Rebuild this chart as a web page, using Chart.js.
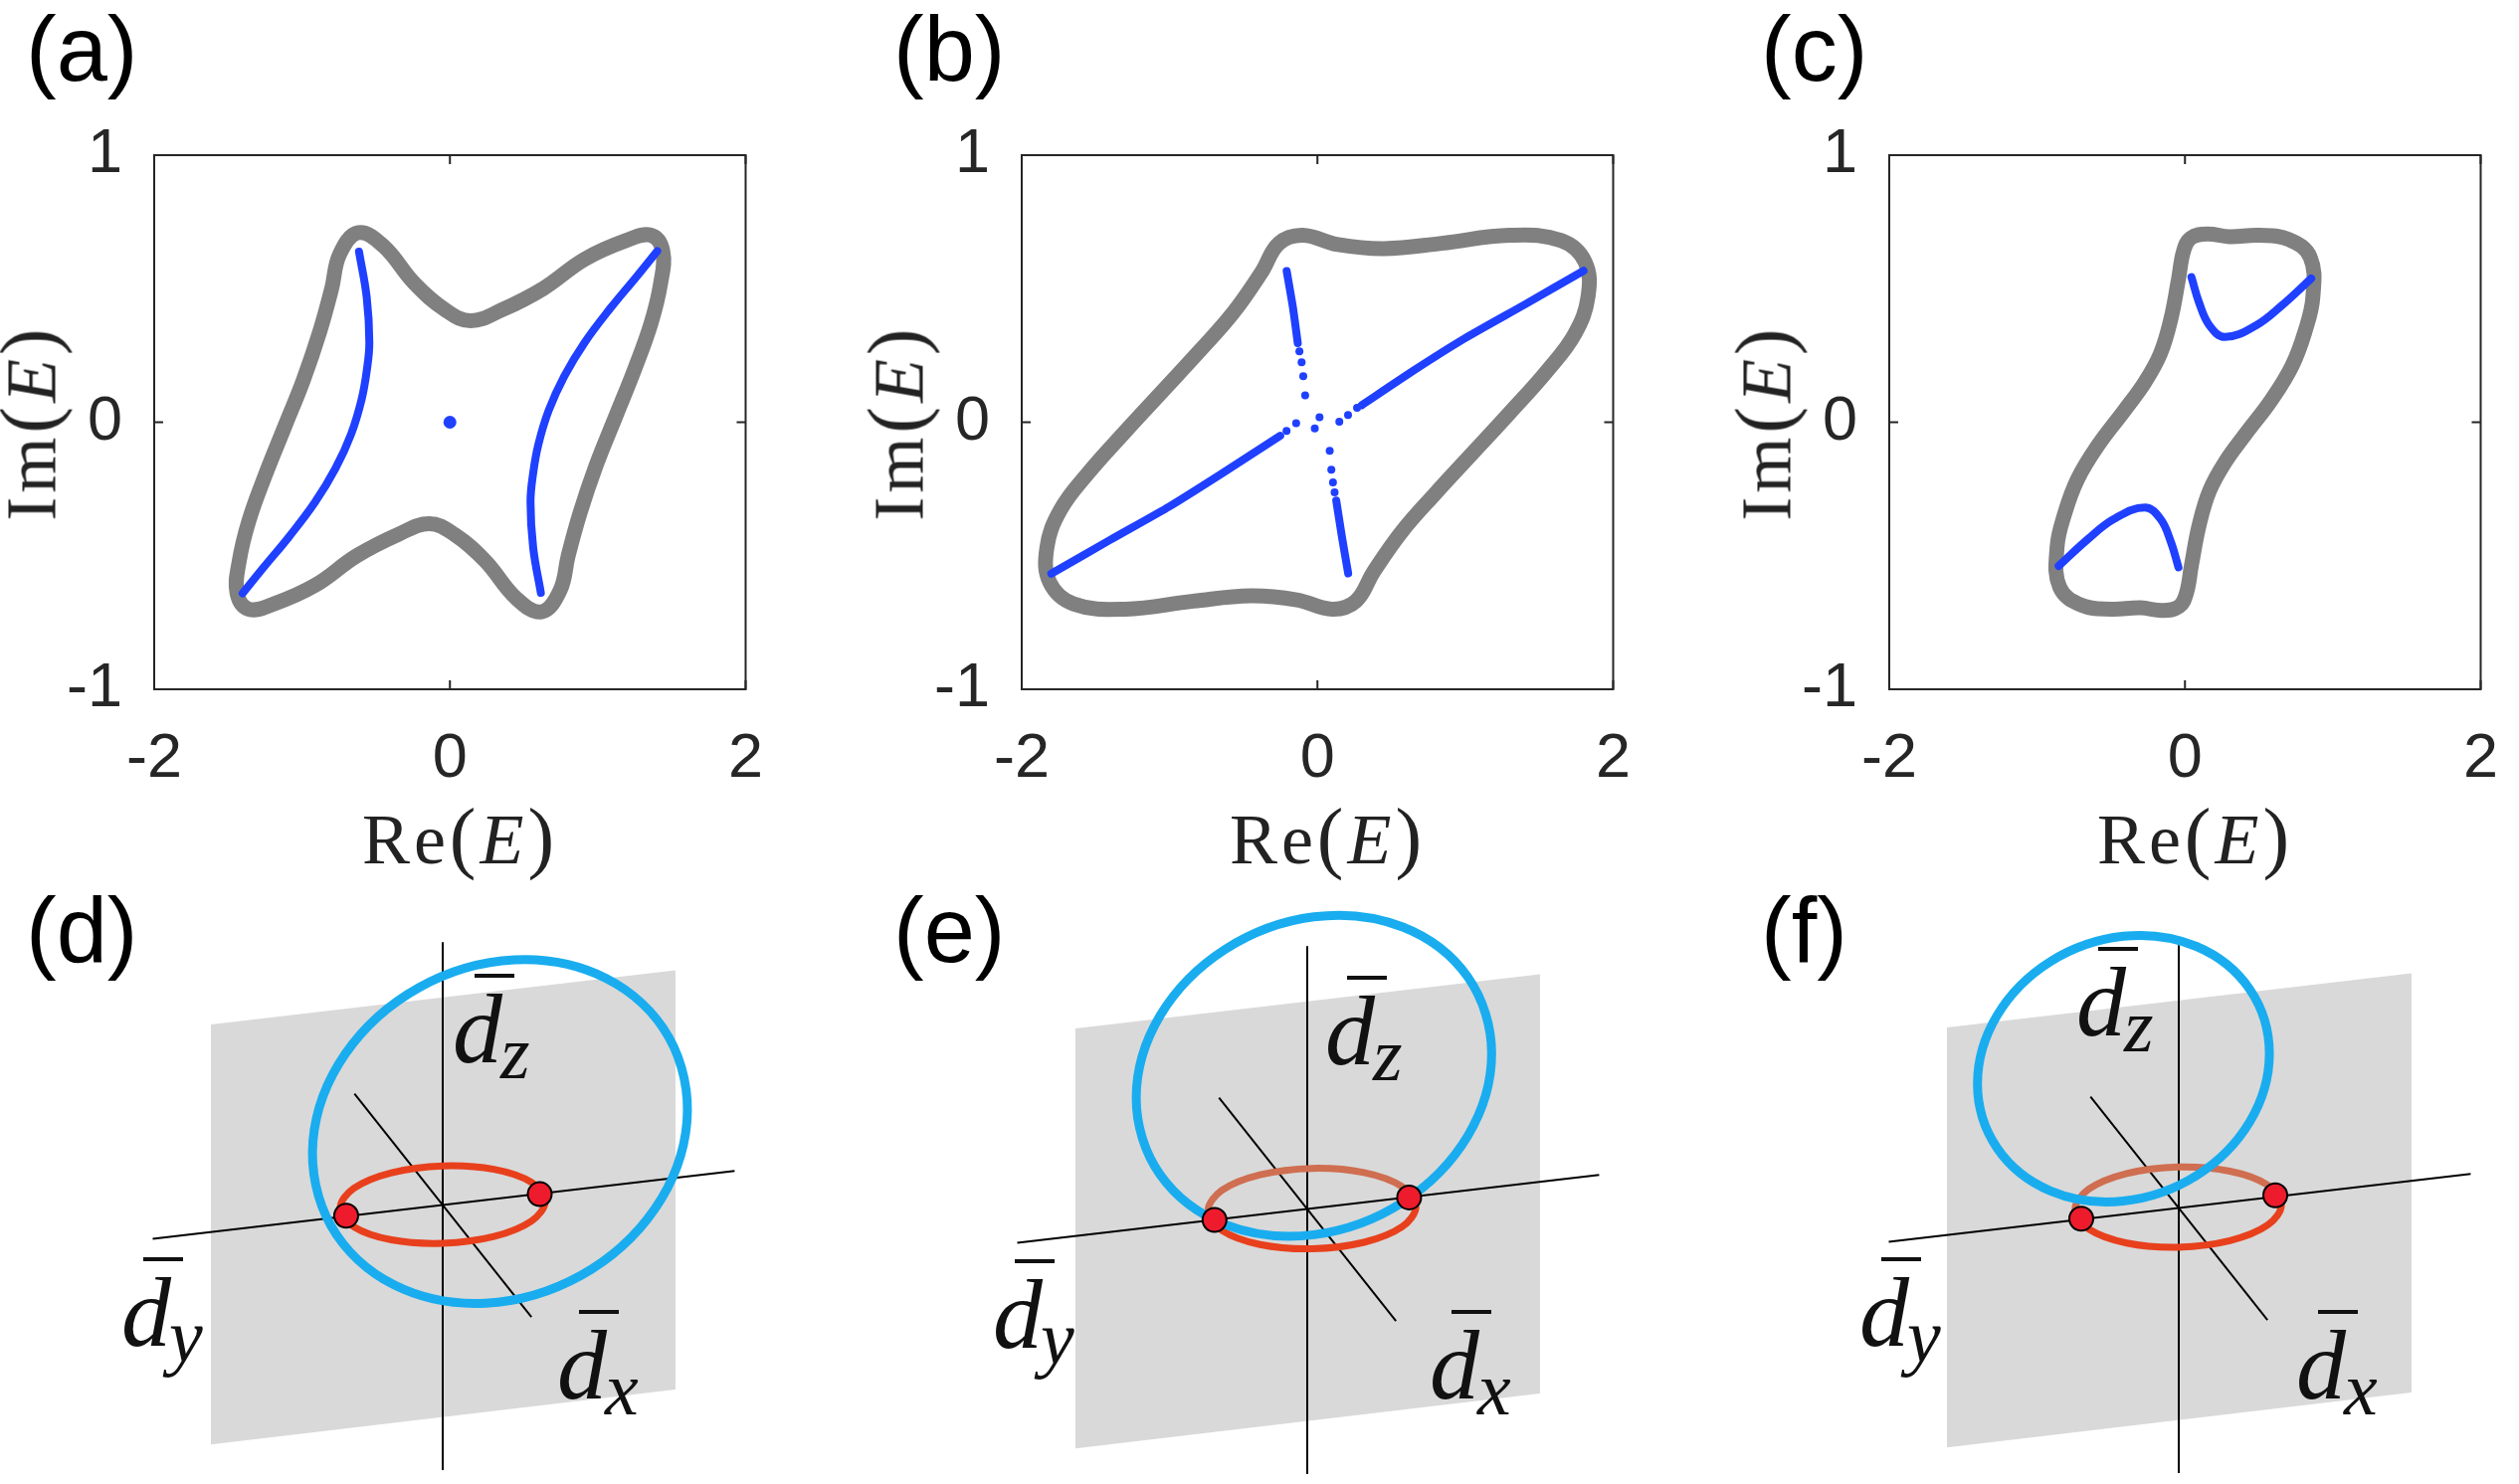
<!DOCTYPE html>
<html>
<head>
<meta charset="utf-8">
<title>Complex spectra and d-vector loops</title>
<script src="https://cdn.jsdelivr.net/npm/chart.js@4.4.1/dist/chart.umd.min.js"></script>
<style>
  html, body { margin:0; padding:0; background:#ffffff; }
  body { width:2532px; height:1492px; overflow:hidden; position:relative; }
  canvas.cv { position:absolute; display:block; }
  .plabel { position:absolute; font-family:'Liberation Sans', Arial, sans-serif; font-size:92px; line-height:92px; color:#000; white-space:nowrap; }
  .ttl { position:absolute; font-family:'Liberation Serif','Times New Roman',serif; font-size:72px; line-height:72px; color:#222; white-space:nowrap; letter-spacing:4px; }
  .ttl .p { font-size:80px; line-height:72px; }
  .ttl i { font-style:italic; }
  .dm { position:absolute; font-family:'Liberation Serif','Times New Roman',serif; font-style:italic; color:#111; white-space:nowrap; font-size:100px; line-height:100px; }
  .dm .sb { font-size:76px; position:relative; top:16px; margin-left:-2px; }
  .dm .dbar { position:absolute; background:#111; left:22px; top:-6px; width:40px; height:4px; }
</style>
</head>
<body>
<script>
// ---------------- data ----------------
const xTicks = [-2, 0, 2];
const yTicks = [-1, 0, 1];
const panelNames = ['(a)', '(b)', '(c)', '(d)', '(e)', '(f)'];

// (a) spectrum: PBC loop (gray) and OBC arcs (blue)
const loopA = [[0.14,0.38],[0.35,0.42],[0.63,0.50],[0.91,0.61],[1.19,0.68],[1.36,0.70],[1.44,0.64],[1.425,0.52],[1.36,0.37],[1.25,0.20],[1.12,0.02],[0.99,-0.16],[0.88,-0.34],[0.80,-0.50],[0.745,-0.63],[0.62,-0.71],[0.45,-0.66],[0.24,-0.52],[0.03,-0.42],
  [-0.14,-0.38],[-0.35,-0.42],[-0.63,-0.50],[-0.91,-0.61],[-1.19,-0.68],[-1.36,-0.70],[-1.44,-0.64],[-1.425,-0.52],[-1.36,-0.37],[-1.25,-0.20],[-1.12,-0.02],[-0.99,0.16],[-0.88,0.34],[-0.80,0.50],[-0.745,0.63],[-0.62,0.71],[-0.45,0.66],[-0.24,0.52],[-0.03,0.42]];
const arcA1 = [[-0.615,0.639],[-0.563,0.469],[-0.545,0.298],[-0.563,0.191],[-0.598,0.084],[-0.668,-0.044],[-0.773,-0.172],[-0.913,-0.300],[-1.087,-0.428],[-1.262,-0.545],[-1.402,-0.641]];
const arcA2 = [[1.402,0.641],[1.262,0.545],[1.087,0.428],[0.913,0.300],[0.773,0.172],[0.668,0.044],[0.598,-0.084],[0.563,-0.191],[0.545,-0.298],[0.563,-0.469],[0.615,-0.639]];
const dotA = [[0, 0]];

// (b)
const loopB = [[-0.10,0.70],[0.14,0.665],[0.45,0.65],[0.84,0.67],[1.30,0.70],[1.65,0.68],[1.81,0.60],[1.83,0.47],[1.74,0.33],[1.55,0.19],[1.30,0.035],[1.05,-0.115],[0.80,-0.265],[0.57,-0.41],[0.38,-0.56],[0.26,-0.67],
  [0.10,-0.70],[-0.14,-0.665],[-0.45,-0.65],[-0.84,-0.67],[-1.30,-0.70],[-1.65,-0.68],[-1.81,-0.60],[-1.83,-0.47],[-1.74,-0.33],[-1.55,-0.19],[-1.30,-0.035],[-1.05,0.115],[-0.80,0.265],[-0.57,0.41],[-0.38,0.56],[-0.26,0.67]];
const lineB1 = [[-1.80,-0.567],[-1.40,-0.44],[-1.00,-0.315],[-0.652,-0.194],[-0.252,-0.051]];
const lineB2 = [[0.300,0.064],[0.652,0.194],[1.00,0.315],[1.40,0.44],[1.80,0.567]];
const lineB3 = [[-0.208,0.566],[-0.165,0.427],[-0.133,0.296]];
const lineB4 = [[0.127,-0.293],[0.165,-0.427],[0.208,-0.566]];
const dotsB = [[-0.209,-0.033],[-0.144,-0.004],[0.148,0.002],[0.207,0.027],[0.268,0.054],[-0.122,0.265],[-0.107,0.224],[-0.096,0.172],[-0.083,0.101],[0.014,0.019],[-0.018,-0.023],[0.083,-0.107],[0.094,-0.178],[0.105,-0.225],[0.116,-0.263]];

// (c)
const loopC = [[0.04,0.69],[0.15,0.705],[0.30,0.695],[0.50,0.70],[0.70,0.685],[0.847,0.618],[0.865,0.468],[0.812,0.340],[0.725,0.212],[0.585,0.084],[0.410,-0.044],[0.271,-0.150],[0.166,-0.257],[0.096,-0.385],[0.044,-0.535],[0.009,-0.642],
  [-0.04,-0.69],[-0.15,-0.705],[-0.30,-0.695],[-0.50,-0.70],[-0.70,-0.685],[-0.847,-0.618],[-0.865,-0.468],[-0.812,-0.340],[-0.725,-0.212],[-0.585,-0.084],[-0.410,0.044],[-0.271,0.150],[-0.166,0.257],[-0.096,0.385],[-0.044,0.535],[-0.009,0.642]];
const arcC1 = [[0.044,0.543],[0.096,0.447],[0.166,0.362],[0.271,0.319],[0.480,0.362],[0.655,0.437],[0.854,0.538]];
const arcC2 = [[-0.854,-0.538],[-0.655,-0.437],[-0.480,-0.362],[-0.271,-0.319],[-0.166,-0.362],[-0.096,-0.447],[-0.044,-0.543]];

// (d)-(f) sketch: frame of the d-vector space (plane and axes), schematic units
const planeFrame = [[-2.43,1.90],[2.44,2.47],[2.44,-1.95],[-2.43,-2.53]];
const axisZ = [[0,2.76],[0,-2.8]];
const axisY = [[-3.04,-0.36],[3.06,0.355]];
const axisX = [[-0.925,1.17],[0.93,-1.185]];

const blueD = [[2.56,0.87],[2.372,1.762],[1.71,2.387],[0.75,2.58],[-0.25,2.287],[-1.022,1.588],[-1.36,0.67],[-1.172,-0.222],[-0.51,-0.847],[0.45,-1.04],[1.45,-0.747],[2.222,-0.048]];
const redD = [[1.075,0.036],[0.931,0.235],[0.5375,0.372],[0,0.408],[-0.5375,0.336],[-0.931,0.173],[-1.075,-0.036],[-0.931,-0.235],[-0.5375,-0.372],[0,-0.408],[0.5375,-0.336],[0.931,-0.173]];
const nodesD = [[-1.012,-0.117],[1.017,0.11]];

const blueE = [[1.933,1.636],[1.683,2.442],[1.001,2.969],[0.07,3.076],[-0.861,2.733],[-1.543,2.034],[-1.793,1.164],[-1.543,0.358],[-0.861,-0.169],[0.07,-0.276],[1.001,0.067],[1.683,0.766]];
const redE = [[1.14,0.022],[0.994,0.231],[0.595,0.379],[0.05,0.424],[-0.495,0.356],[-0.894,0.193],[-1.04,-0.022],[-0.894,-0.231],[-0.495,-0.379],[0.05,-0.424],[0.595,-0.356],[0.994,-0.193]];
const nodesE = [[-0.972,-0.12],[1.068,0.117]];

const blueF = [[0.95,1.624],[0.745,2.301],[0.185,2.754],[-0.58,2.861],[-1.345,2.594],[-1.905,2.025],[-2.11,1.306],[-1.905,0.629],[-1.345,0.176],[-0.58,0.069],[0.185,0.336],[0.745,0.905]];
const redF = [[1.077,0.030],[0.932,0.238],[0.536,0.384],[-0.005,0.428],[-0.546,0.359],[-0.942,0.195],[-1.087,-0.020],[-0.942,-0.228],[-0.546,-0.374],[-0.005,-0.418],[0.536,-0.349],[0.932,-0.185]];
const nodesF = [[-1.022,-0.117],[1.012,0.129]];

// ---------------- layout / style ----------------
const BOX_LEFT = [155, 1027, 1899];
const BOX_TOP = 156, BOX_W = 615, BOX_BOTTOM = 693;
const ORIGINS = [[444.6,1211.8],[1313.9,1215.7],[2189.6,1214.9]];
const GRAY = '#808080', BLUE = '#1f40ff', CYAN = '#19adef', RED = '#e8401c', RED_FADED = '#cf6e50', NODE = '#ee1b2c', PLANE = '#d9d9d9';
const AXC = '#262626';
const AXIS_SLOPE = (axisY[1][1] - axisY[0][1]) / (axisY[1][0] - axisY[0][0]);
const AXIS_ICPT = axisY[0][1] - AXIS_SLOPE * axisY[0][0];

function xy(pts) { return pts.map(p => ({ x: p[0], y: p[1] })); }
function closedCurve(pts, color, width, order, tension, segColor) {
  const data = xy([pts[pts.length - 1], ...pts, pts[0], pts[1]]);
  const m = data.length;
  return { data, showLine: true, fill: false, borderColor: color, borderWidth: width,
    tension: tension === undefined ? 0.4 : tension,
    pointRadius: 0, pointHoverRadius: 0, borderJoinStyle: 'round', order,
    segment: { borderColor: c => {
      if (c.p0DataIndex === 0 || c.p1DataIndex === m - 1) return 'rgba(0,0,0,0)';
      return segColor ? segColor(data[c.p0DataIndex], data[c.p1DataIndex]) : undefined;
    } } };
}
function openCurve(pts, color, width, order, tension, cap) {
  return { data: xy(pts), showLine: true, fill: false, borderColor: color, borderWidth: width,
    tension: tension === undefined ? 0.4 : tension, pointRadius: 0, pointHoverRadius: 0,
    borderCapStyle: cap || 'round', borderJoinStyle: 'round', order };
}
function dots(pts, color, r, order, border, bw) {
  return { data: xy(pts), showLine: false, pointRadius: r, pointHoverRadius: r,
    pointBackgroundColor: color, pointBorderColor: border || color, pointBorderWidth: bw || 0, order };
}
function mkCanvas(left, top, w, h) {
  const c = document.createElement('canvas');
  c.className = 'cv'; c.width = w; c.height = h;
  c.style.left = left + 'px'; c.style.top = top + 'px';
  c.style.width = w + 'px'; c.style.height = h + 'px';
  document.body.appendChild(c);
  return c;
}

const boxPlugin = {
  id: 'matlabBox',
  afterDraw(chart) {
    const { ctx, chartArea: a, scales: { x, y } } = chart;
    ctx.save();
    ctx.strokeStyle = AXC; ctx.lineWidth = 2;
    ctx.strokeRect(a.left, a.top, a.right - a.left, a.bottom - a.top);
    const L = 9;
    ctx.beginPath();
    xTicks.forEach(v => { const px = x.getPixelForValue(v); ctx.moveTo(px, a.bottom); ctx.lineTo(px, a.bottom - L); ctx.moveTo(px, a.top); ctx.lineTo(px, a.top + L); });
    yTicks.forEach(v => { const py = y.getPixelForValue(v); ctx.moveTo(a.left, py); ctx.lineTo(a.left + L, py); ctx.moveTo(a.right, py); ctx.lineTo(a.right - L, py); });
    ctx.stroke();
    ctx.restore();
  }
};

function topOptions() {
  const tickFont = { family: "'Liberation Sans', Arial, Helvetica, sans-serif", size: 63 };
  return {
    responsive: false, animation: false, events: [],
    layout: { padding: { left: 0, right: 30, top: BOX_TOP, bottom: 0 } },
    plugins: { legend: { display: false }, tooltip: { enabled: false }, title: { display: false } },
    scales: {
      x: { type: 'linear', min: -2, max: 2,
        afterBuildTicks: s => { s.ticks = xTicks.map(v => ({ value: v })); },
        afterFit: s => { s.height = 127; },
        grid: { display: false, drawTicks: false }, border: { display: false },
        ticks: { font: tickFont, color: AXC, padding: 33, maxRotation: 0, autoSkip: false, callback: v => String(v) } },
      y: { type: 'linear', min: -1, max: 1,
        afterBuildTicks: s => { s.ticks = yTicks.map(v => ({ value: v })); },
        afterFit: s => { s.width = 140; },
        grid: { display: false, drawTicks: false }, border: { display: false },
        ticks: { font: tickFont, color: AXC, padding: 32, autoSkip: false, callback: v => String(v) } }
    }
  };
}
function makeTop(i, datasets) {
  const cv = mkCanvas(BOX_LEFT[i] - 140, 0, 140 + BOX_W + 30, BOX_BOTTOM + 127);
  new Chart(cv, { type: 'scatter', data: { datasets }, options: topOptions(), plugins: [boxPlugin] });
}

function bottomOptions() {
  return {
    responsive: false, animation: false, events: [],
    layout: { padding: 0 },
    plugins: { legend: { display: false }, tooltip: { enabled: false } },
    scales: { x: { type: 'linear', display: false, min: -3.4, max: 3.4 },
              y: { type: 'linear', display: false, min: -2.8, max: 3.2 } }
  };
}
function makeBottom(i, blue, red, nodes, topColor) {
  const [ox, oy] = ORIGINS[i];
  const cv = mkCanvas(ox - 340, oy - 320, 680, 600);
  const upperColor = (a, b) => (((a.y + b.y) / 2) - (AXIS_SLOPE * (a.x + b.x) / 2 + AXIS_ICPT) > 0) ? topColor : undefined;
  const datasets = [
    { data: xy([...planeFrame, planeFrame[0]]), showLine: true, fill: 'shape', backgroundColor: PLANE,
      borderColor: 'rgba(0,0,0,0)', borderWidth: 0, pointRadius: 0, tension: 0, order: 20 },
    openCurve(axisZ, '#000', 2, 19, 0, 'butt'),
    openCurve(axisY, '#000', 2, 18, 0, 'butt'),
    openCurve(axisX, '#000', 2, 17, 0, 'butt'),
    closedCurve(red, RED, 7, 15, 0.35, upperColor),
    closedCurve(blue, CYAN, 9, 10, 0.35),
    dots(nodes, NODE, 12, 1, '#000', 2)
  ];
  new Chart(cv, { type: 'scatter', data: { datasets }, options: bottomOptions() });
}

// ---------------- charts ----------------
makeTop(0, [
  closedCurve(loopA, GRAY, 15, 10),
  openCurve(arcA1, BLUE, 8, 5),
  openCurve(arcA2, BLUE, 8, 5),
  dots(dotA, BLUE, 6.5, 1)
]);
makeTop(1, [
  closedCurve(loopB, GRAY, 15, 10),
  openCurve(lineB1, BLUE, 8, 5, 0.2),
  openCurve(lineB2, BLUE, 8, 5, 0.2),
  openCurve(lineB3, BLUE, 8, 5, 0.2),
  openCurve(lineB4, BLUE, 8, 5, 0.2),
  dots(dotsB, BLUE, 4, 1)
]);
makeTop(2, [
  closedCurve(loopC, GRAY, 15, 10),
  openCurve(arcC1, BLUE, 8, 5),
  openCurve(arcC2, BLUE, 8, 5)
]);
makeBottom(0, blueD, redD, nodesD, RED);
makeBottom(1, blueE, redE, nodesE, RED_FADED);
makeBottom(2, blueF, redF, nodesF, RED_FADED);

// ---------------- text ----------------
function addDiv(cls, html, css) {
  const d = document.createElement('div');
  d.className = cls; d.innerHTML = html; d.style.cssText += css;
  document.body.appendChild(d);
  return d;
}
const titleRe = 'Re<span class="p">(</span><i>E</i><span class="p">)</span>';
const titleIm = 'Im<span class="p">(</span><i>E</i><span class="p">)</span>';
for (let i = 0; i < 3; i++) {
  addDiv('plabel', panelNames[i], `left:${BOX_LEFT[i] - 129}px;top:3px;`);
  addDiv('plabel', panelNames[i + 3], `left:${BOX_LEFT[i] - 129}px;top:889px;`);
  addDiv('ttl', titleRe, `left:${BOX_LEFT[i] + BOX_W / 2}px;top:${865 - 60.3}px;transform:translateX(-50%);`);
  addDiv('ttl', titleIm, `left:${BOX_LEFT[i] - 125.3}px;top:424.5px;transform:translate(-50%,-50%) rotate(-90deg);`);
}
// d-vector axis labels: [subscript, glyph left, baseline]
const dLabels = [
  ['z', 457, 1069], ['y', 124, 1354], ['x', 562, 1407],
  ['z', 1334, 1071], ['y', 1000, 1356], ['x', 1439, 1407],
  ['z', 2089, 1042], ['y', 1871, 1354], ['x', 2310, 1407]
];
dLabels.forEach(([s, l, b]) => {
  addDiv('dm', `<span class="dbar"></span>d<span class="sb">${s}</span>`, `left:${l - 2}px;top:${b - 83.75}px;`);
});
</script>
</body>
</html>
